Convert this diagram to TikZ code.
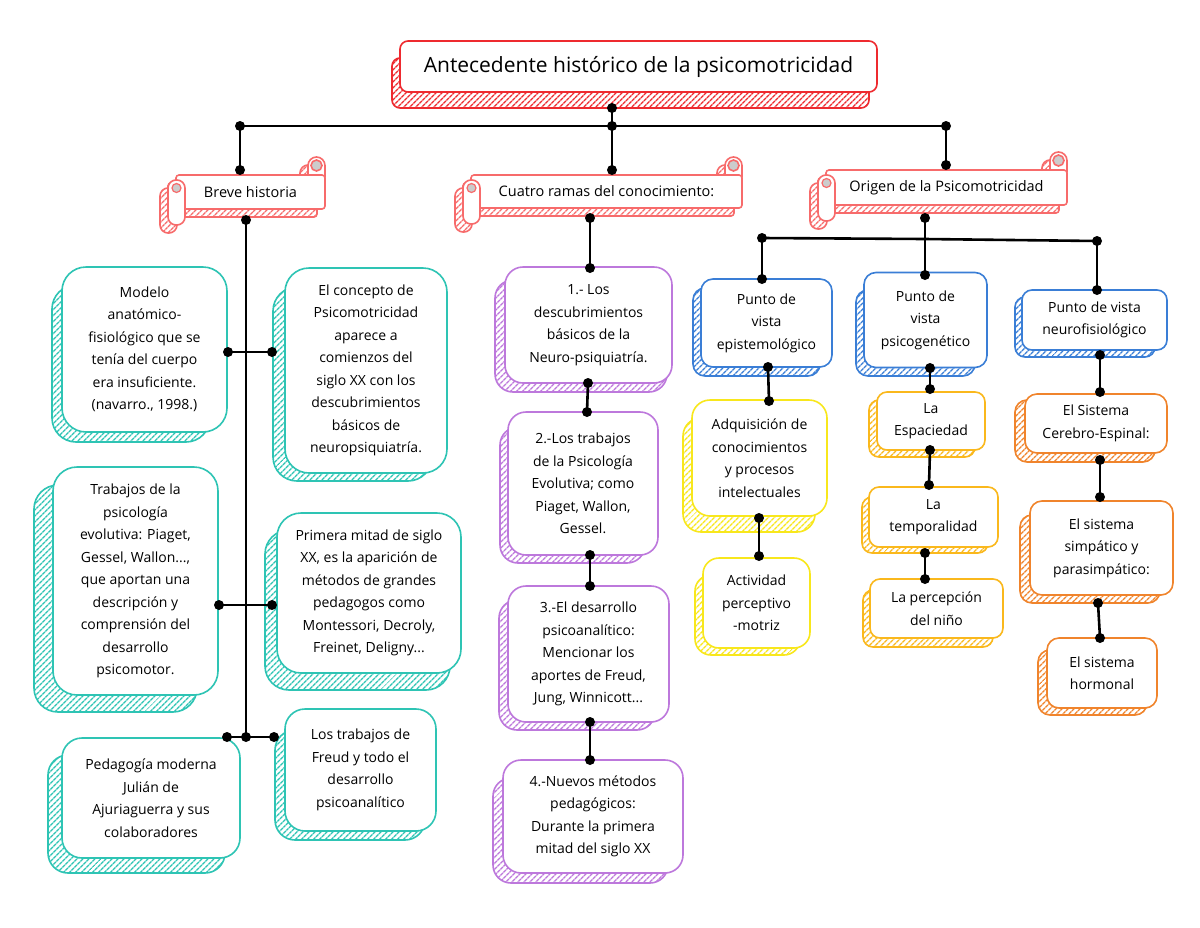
\documentclass[tikz,border=0pt]{standalone}
\usepackage{fontspec}
\setmainfont{Open Sans}
\usetikzlibrary{patterns.meta,calc}
\definecolor{titlered}{HTML}{EE2A2F}
\definecolor{banred}{HTML}{F76B6B}
\definecolor{tealc}{HTML}{2EC4B4}
\definecolor{purplec}{HTML}{BD78DC}
\definecolor{bluec}{HTML}{3A7ED6}
\definecolor{yellowc}{HTML}{F8E71C}
\definecolor{amberc}{HTML}{FAB81C}
\definecolor{orangec}{HTML}{F0842C}
\definecolor{rollgray}{HTML}{CCCCCC}
\tikzset{
  x=1pt, y=-1pt,
  box/.style={draw=#1, line width=1.6pt, fill=white, align=center, inner sep=0pt,
    font=\fontsize{14}{22.5}\selectfont},
  shad/.style={draw=#1, line width=1.6pt,
    pattern={Lines[angle=45,distance=4pt,line width=1.6pt]}, pattern color=#1},
  conn/.style={line width=2.6pt, black},
  bantext/.style={inner sep=0pt, font=\fontsize{14.5}{17}\selectfont},
}
\newcommand\dotat[1]{\fill[black] (#1) circle (5pt);}
% banner: #1 x, #2 y of band top-left, #3 width, #4 height
\newcommand\bannershadow[4]{%
  \begin{scope}[shift={(#1-8,#2+8)}]
    \draw[shad=banred, rounded corners=8pt] (#3-17,-18) rectangle (#3,10);
    \draw[shad=banred, rounded corners=3pt] (0,0) rectangle (#3,#4);
    \draw[shad=banred, rounded corners=8pt] (-8,5) rectangle (9,#4+16);
  \end{scope}}
\newcommand\bannerfront[4]{%
  \begin{scope}[shift={(#1,#2)}]
    \draw[draw=banred, line width=1.6pt, fill=white, rounded corners=8.5pt] (#3-17,-18) rectangle (#3,10);
    \draw[draw=banred, line width=1.6pt, fill=rollgray] (#3-8.5,-9.5) circle (5.5pt);
    \draw[draw=banred, line width=1.6pt, fill=white, rounded corners=3pt] (0,0) rectangle (#3,#4);
    \draw[draw=banred, line width=1.6pt, fill=white, rounded corners=8pt] (-8,5) rectangle (9,#4+16);
    \draw[draw=banred, line width=1.2pt, fill=rollgray] (0.5,13) circle (4.5pt);
  \end{scope}}
\begin{document}
\begin{tikzpicture}
\fill[white] (0,0) rectangle (1200,927);
\useasboundingbox (0,0) rectangle (1200,927);

% ---------- title ----------
\draw[shad=titlered, rounded corners=8pt] (392,58) rectangle (869,108);
\node[box=titlered, rounded corners=8pt, minimum width=477pt, minimum height=51pt,
  font=\fontsize{21}{25}\selectfont] (title) at (638.5,66.5) {Antecedente histórico de la psicomotricidad};

% ---------- banners ----------
\bannershadow{176}{175}{149}{34}
\bannershadow{471}{175}{271}{33}
\bannershadow{826}{170}{241}{35}
\bannerfront{176}{175}{149}{34}
\bannerfront{471}{175}{271}{33}
\bannerfront{826}{170}{241}{35}
\node[bantext, minimum width=149pt, minimum height=34pt] (breve) at (250.5,192) {Breve historia};
\node[bantext, minimum width=271pt, minimum height=33pt] (cuatro) at (606.5,191.5) {Cuatro ramas del conocimiento:};
\node[bantext, minimum width=241pt, minimum height=35pt] (origen) at (946.5,187.5) {Origen de la Psicomotricidad};

% ---------- shadows ----------
\draw[shad=tealc, rounded corners=24pt] (52,285) rectangle (210,442);
\draw[shad=tealc, rounded corners=24pt] (273,287) rectangle (432,481);
\draw[shad=tealc, rounded corners=24pt] (34,485) rectangle (197,712);
\draw[shad=tealc, rounded corners=24pt] (265,530) rectangle (450,690);
\draw[shad=tealc, rounded corners=20pt] (275,730) rectangle (425,840);
\draw[shad=tealc, rounded corners=20pt] (48,755) rectangle (225,873);

\draw[shad=purplec, rounded corners=18pt] (495,280) rectangle (667,392);
\draw[shad=purplec, rounded corners=18pt] (500,427) rectangle (645,563);
\draw[shad=purplec, rounded corners=18pt] (499,600) rectangle (655,730);
\draw[shad=purplec, rounded corners=18pt] (493,778) rectangle (668,883);

\draw[shad=bluec, rounded corners=12pt] (693,288) rectangle (820,376);
\draw[shad=bluec, rounded corners=12pt] (856,290) rectangle (975,376);
\draw[shad=bluec, rounded corners=10pt] (1015,297) rectangle (1155,357);

\draw[shad=yellowc, rounded corners=18pt] (683,418) rectangle (815,532);
\draw[shad=yellowc, rounded corners=16pt] (695,575) rectangle (800,655);

\draw[shad=amberc, rounded corners=10pt] (869,400) rectangle (975,457);
\draw[shad=amberc, rounded corners=10pt] (862,497) rectangle (988,553);
\draw[shad=amberc, rounded corners=10pt] (863,590) rectangle (993,647);

\draw[shad=orangec, rounded corners=12pt] (1015,400) rectangle (1155,462);
\draw[shad=orangec, rounded corners=12pt] (1020,515) rectangle (1160,603);
\draw[shad=orangec, rounded corners=12pt] (1038,650) rectangle (1147,715);

% ---------- boxes ----------
\node[box=tealc, rounded corners=24pt, minimum width=165pt, minimum height=165pt] (A1) at (144.5,349.5)
 {Modelo\\anatómico-\\fisiológico que se\\tenía del cuerpo\\era insuficiente.\\(navarro., 1998.)};
\node[box=tealc, rounded corners=24pt, minimum width=162pt, minimum height=205pt] (A2) at (366,370.5)
 {El concepto de\\Psicomotricidad\\aparece a\\comienzos del\\siglo XX con los\\descubrimientos\\básicos de\\neuropsiquiatría.};
\node[box=tealc, rounded corners=24pt, minimum width=165pt, minimum height=228pt] (A3) at (135.5,581)
 {Trabajos de la\\psicología\\evolutiva: Piaget,\\Gessel, Wallon...,\\que aportan una\\descripción y\\comprensión del\\desarrollo\\psicomotor.};
\node[box=tealc, rounded corners=24pt, minimum width=184pt, minimum height=160pt] (A4) at (369,593)
 {Primera mitad de siglo\\XX, es la aparición de\\métodos de grandes\\pedagogos como\\Montessori, Decroly,\\Freinet, Deligny...};
\node[box=tealc, rounded corners=20pt, minimum width=151pt, minimum height=122pt] (A5) at (360.5,770)
 {Los trabajos de\\Freud y todo el\\desarrollo\\psicoanalítico};
\node[box=tealc, rounded corners=20pt, minimum width=178pt, minimum height=120pt] (A6) at (151,798)
 {Pedagogía moderna\\Julián de\\Ajuriaguerra y sus\\colaboradores};

\node[box=purplec, rounded corners=18pt, minimum width=167pt, minimum height=116pt] (B1) at (588.5,325)
 {1.- Los\\descubrimientos\\básicos de la\\Neuro-psiquiatría.};
\node[box=purplec, rounded corners=18pt, minimum width=150pt, minimum height=143pt] (B2) at (583,483.5)
 {2.-Los trabajos\\de la Psicología\\Evolutiva; como\\Piaget, Wallon,\\Gessel.};
\node[box=purplec, rounded corners=18pt, minimum width=161pt, minimum height=136pt] (B3) at (588.5,654)
 {3.-El desarrollo\\psicoanalítico:\\Mencionar los\\aportes de Freud,\\Jung, Winnicott...};
\node[box=purplec, rounded corners=18pt, minimum width=180pt, minimum height=113pt] (B4) at (593,816.5)
 {4.-Nuevos métodos\\pedagógicos:\\Durante la primera\\mitad del siglo XX};

\node[box=bluec, rounded corners=12pt, minimum width=131pt, minimum height=88pt] (C1) at (766.5,323)
 {Punto de\\vista\\epistemológico};
\node[box=bluec, rounded corners=12pt, minimum width=123pt, minimum height=95pt] (C2) at (925.5,320)
 {Punto de\\vista\\psicogenético};
\node[box=bluec, rounded corners=10pt, minimum width=145pt, minimum height=60pt] (C3) at (1094.5,320)
 {Punto de vista\\neurofisiológico};

\node[box=yellowc, rounded corners=18pt, minimum width=135pt, minimum height=116pt] (D1) at (759.5,458)
 {Adquisición de\\conocimientos\\y procesos\\intelectuales};
\node[box=yellowc, rounded corners=16pt, minimum width=107pt, minimum height=90pt] (D2) at (756.5,603)
 {Actividad\\perceptivo\\-motriz};

\node[box=amberc, rounded corners=10pt, minimum width=108pt, minimum height=58pt] (E1) at (931,421)
 {La\\Espaciedad};
\node[box=amberc, rounded corners=10pt, minimum width=129pt, minimum height=60pt] (E2) at (933.5,517)
 {La\\temporalidad};
\node[box=amberc, rounded corners=10pt, minimum width=133pt, minimum height=59pt] (E3) at (936.5,608.5)
 {La percepción\\del niño};

\node[box=orangec, rounded corners=12pt, minimum width=142pt, minimum height=59pt] (F1) at (1096,423.5)
 {El Sistema\\Cerebro-Espinal:};
\node[box=orangec, rounded corners=12pt, minimum width=143pt, minimum height=94pt] (F2) at (1101.5,548)
 {El sistema\\simpático y\\parasimpático:};
\node[box=orangec, rounded corners=12pt, minimum width=110pt, minimum height=70pt] (F3) at (1102,673)
 {El sistema\\hormonal};

% ---------- connector points ----------
\coordinate (t0) at (612,108);
\coordinate (tj) at (612,126);
\coordinate (tl) at (240,126);
\coordinate (tr) at (946,126);
\coordinate (bB) at (240,170);
\coordinate (bC) at (612,170);
\coordinate (bO) at (946,165);
% breve
\coordinate (sB) at (246,220);
\coordinate (sE) at (246,737);
\coordinate (a1) at (228,352);
\coordinate (a2) at (272,352);
\coordinate (a3) at (219,605);
\coordinate (a4) at (272,605);
\coordinate (a6) at (227,737);
\coordinate (a5) at (274,737);
% cuatro
\coordinate (c0) at (590,218);
\coordinate (b1t) at (590,268);
\coordinate (b1b) at (588,383);
\coordinate (b2t) at (587,412);
\coordinate (b2b) at (590,555);
\coordinate (b3t) at (590,586);
\coordinate (b3b) at (590,722);
\coordinate (b4t) at (590,760);
% origen
\coordinate (o0) at (925,218);
\coordinate (oj) at (925,239);
\coordinate (ol) at (762,238);
\coordinate (or) at (1097,241);
\coordinate (c1t) at (762,279);
\coordinate (c2t) at (925,275);
\coordinate (c3t) at (1097,290);
\coordinate (c1b) at (768,367);
\coordinate (d1t) at (769,401);
\coordinate (d1b) at (759,518);
\coordinate (d2t) at (759,556);
\coordinate (c2b) at (930,368);
\coordinate (e1t) at (930,389);
\coordinate (e1b) at (930,450);
\coordinate (e2t) at (929,485);
\coordinate (e2b) at (925,553);
\coordinate (e3t) at (925,579);
\coordinate (c3b) at (1100,355);
\coordinate (f1t) at (1100,392);
\coordinate (f1b) at (1100,460);
\coordinate (f2t) at (1100,497);
\coordinate (f2b) at (1098,603);
\coordinate (f3t) at (1100,638);

% ---------- connectors ----------
\draw[conn] (t0) -- (tj);
\draw[conn] (tl) -- (tr);
\draw[conn] (tl) -- (bB);
\draw[conn] (tj) -- (bC);
\draw[conn] (tr) -- (bO);
\foreach \p in {t0,tl,tj,tr,bB,bC,bO} {\dotat{\p}}

\draw[conn] (sB) -- (sE);
\draw[conn] (a1) -- (a2);
\draw[conn] (a3) -- (a4);
\draw[conn] (a6) -- (a5);
\foreach \p in {sB,sE,a1,a2,a3,a4,a5,a6} {\dotat{\p}}

\draw[conn] (c0) -- (b1t);
\draw[conn] (b1b) -- (b2t);
\draw[conn] (b2b) -- (b3t);
\draw[conn] (b3b) -- (b4t);
\foreach \p in {c0,b1t,b1b,b2t,b2b,b3t,b3b,b4t} {\dotat{\p}}

\draw[conn] (o0) -- (oj);
\draw[conn] (ol) -- (oj) -- (or);
\draw[conn] (ol) -- (c1t);
\draw[conn] (oj) -- (c2t);
\draw[conn] (or) -- (c3t);
\draw[conn] (c1b) -- (d1t);
\draw[conn] (d1b) -- (d2t);
\draw[conn] (c2b) -- (e1t);
\draw[conn] (e1b) -- (e2t);
\draw[conn] (e2b) -- (e3t);
\draw[conn] (c3b) -- (f1t);
\draw[conn] (f1b) -- (f2t);
\draw[conn] (f2b) -- (f3t);
\foreach \p in {o0,ol,or,c1t,c2t,c3t,c1b,d1t,d1b,d2t,c2b,e1t,e1b,e2t,e2b,e3t,c3b,f1t,f1b,f2t,f2b,f3t} {\dotat{\p}}
\end{tikzpicture}
\end{document}
